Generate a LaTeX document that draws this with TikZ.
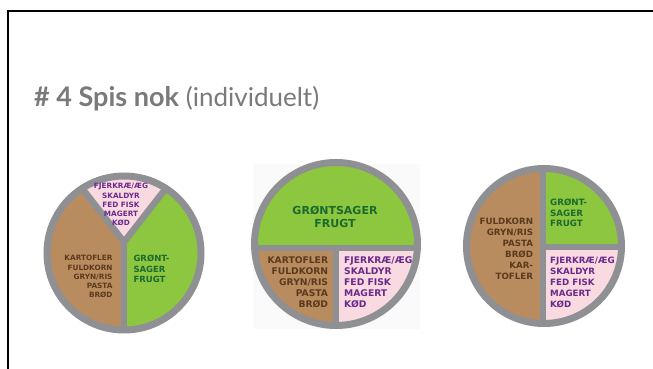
\documentclass[tikz,border=0pt]{standalone}
\usepackage{fontspec}
\setmainfont{Lato}
\newfontfamily\platefont{DejaVu Sans}
\usetikzlibrary{calc}

\definecolor{titlegray}{HTML}{7A7A7A}
\definecolor{rimgray}{HTML}{8E9093}
\definecolor{grainfill}{HTML}{B98C60}
\definecolor{vegfill}{HTML}{8DC63F}
\definecolor{protfill}{HTML}{F9DAE1}
\definecolor{graintext}{HTML}{5B3A1C}
\definecolor{vegtext}{HTML}{1B6A2F}
\definecolor{prottext}{HTML}{6A2A8C}
\definecolor{panelbg}{HTML}{FAFAFA}

\tikzset{
  rim/.style={draw=rimgray, line width=7pt},
  divider/.style={draw=rimgray, line width=6.5pt},
  labelbase/.style={inner sep=0pt},
  small/.style={labelbase, font=\platefont\bfseries\fontsize{7.3}{9.1}\selectfont},
  medium/.style={labelbase, font=\platefont\bfseries\fontsize{8.7}{11}\selectfont},
  large/.style={labelbase, font=\platefont\bfseries\fontsize{9.2}{11.2}\selectfont},
  grainlabel/.style={text=graintext, align=right, anchor=north east},
  protlabel/.style={text=prottext, align=left, anchor=north west},
  veglabel/.style={text=vegtext, align=left, anchor=north west}
}

\begin{document}
\begin{tikzpicture}[x=1pt, y=1pt]
  % page area and slide frame
  \fill[white] (0,0) rectangle (653,369);
  \useasboundingbox (0,0) rectangle (653,369);
  \draw[black, line width=2pt] (7.5,0) -- (7.5,358) -- (653,358);

  % heading
  \node[anchor=base west, inner sep=0pt, text=titlegray, font=\fontsize{27}{30}\selectfont] (title) at (34,262)
    {\textbf{\# 4 Spis nok} \fontsize{26}{30}\selectfont(individuelt)};

  % ---------- plate 1: three wedges ----------
  \coordinate (p1) at (124,116);
  \coordinate (j1) at (124,127);
  \begin{scope}
    \clip (p1) circle (78);
    \fill[grainfill] (j1) -- ++(128:120) -- ++(0,-250) -- (124,-20) -- cycle;
    \fill[vegfill] (j1) -- ++(52:120) -- ++(0,-250) -- (124,-20) -- cycle;
    \fill[protfill] (j1) -- ++(128:120) -- ($(j1)+(52:120)$) -- cycle;
  \end{scope}
  \coordinate (j1a) at ($(j1)+(128:100)$);
  \coordinate (j1b) at ($(j1)+(52:100)$);
  \coordinate (j1c) at (124,20);
  \begin{scope}
    \clip (p1) circle (78);
    \draw[divider] (j1a) -- (j1) -- (j1b);
    \draw[divider] (j1) -- (j1c);
  \end{scope}
  \draw[rim] (p1) circle (77);
  \node[small, text=prottext, align=center, anchor=north] (p1prot) at (121,185.7)
    {FJERKRÆ/ÆG\\SKALDYR\\FED FISK\\MAGERT\\KØD};
  \node[small, grainlabel] (p1grain) at (112.7,113.7)
    {KARTOFLER\\FULDKORN\\GRYN/RIS\\PASTA\\BRØD};
  \node[labelbase, font=\platefont\bfseries\fontsize{8.5}{10.5}\selectfont, veglabel] (p1veg) at (133.3,114.1)
    {GRØNT-\\SAGER\\FRUGT};

  % ---------- plate 2: half and two quarters ----------
  \fill[panelbg] (253,40) rectangle (420,205);
  \coordinate (p2) at (336,125);
  \coordinate (j2) at (336,121);
  \begin{scope}
    \clip (p2) circle (82);
    \fill[vegfill] (240,121) rectangle (430,220);
    \fill[grainfill] (240,121) rectangle (336,30);
    \fill[protfill] (336,121) rectangle (430,30);
  \end{scope}
  \coordinate (j2l) at (240,121);
  \coordinate (j2r) at (430,121);
  \coordinate (j2b) at (336,30);
  \begin{scope}
    \clip (p2) circle (82);
    \draw[divider] (j2l) -- (j2r);
    \draw[divider] (j2) -- (j2b);
  \end{scope}
  \draw[rim] (p2) circle (81.5);
  \node[labelbase, font=\platefont\bfseries\fontsize{11}{12.7}\selectfont, text=vegtext, align=center, anchor=north] (p2veg) at (335,163)
    {GRØNTSAGER\\FRUGT};
  \node[large, grainlabel] (p2grain) at (328.3,113)
    {KARTOFLER\\FULDKORN\\GRYN/RIS\\PASTA\\BRØD};
  \node[large, protlabel] (p2prot) at (344,113)
    {FJERKRÆ/ÆG\\SKALDYR\\FED FISK\\MAGERT\\KØD};

  % ---------- plate 3: half and two quarters ----------
  \coordinate (p3) at (544,123);
  \coordinate (j3) at (543,122);
  \begin{scope}
    \clip (p3) circle (78);
    \fill[grainfill] (543,20) rectangle (450,230);
    \fill[vegfill] (543,122) rectangle (640,230);
    \fill[protfill] (543,122) rectangle (640,20);
  \end{scope}
  \coordinate (j3t) at (543,230);
  \coordinate (j3b) at (543,20);
  \coordinate (j3r) at (640,122);
  \begin{scope}
    \clip (p3) circle (78);
    \draw[divider] (j3t) -- (j3b);
    \draw[divider] (j3) -- (j3r);
  \end{scope}
  \draw[rim] (p3) circle (77.5);
  \node[labelbase, font=\platefont\bfseries\fontsize{8.7}{10.8}\selectfont, veglabel] (p3veg) at (550,170.5)
    {GRØNT-\\SAGER\\FRUGT};
  \node[medium, grainlabel] (p3grain) at (533.3,151.2)
    {FULDKORN\\GRYN/RIS\\PASTA\\BRØD\\KAR-\\TOFLER};
  \node[medium, protlabel] (p3prot) at (550,112.1)
    {FJERKRÆ/ÆG\\SKALDYR\\FED FISK\\MAGERT\\KØD};
\end{tikzpicture}
\end{document}
